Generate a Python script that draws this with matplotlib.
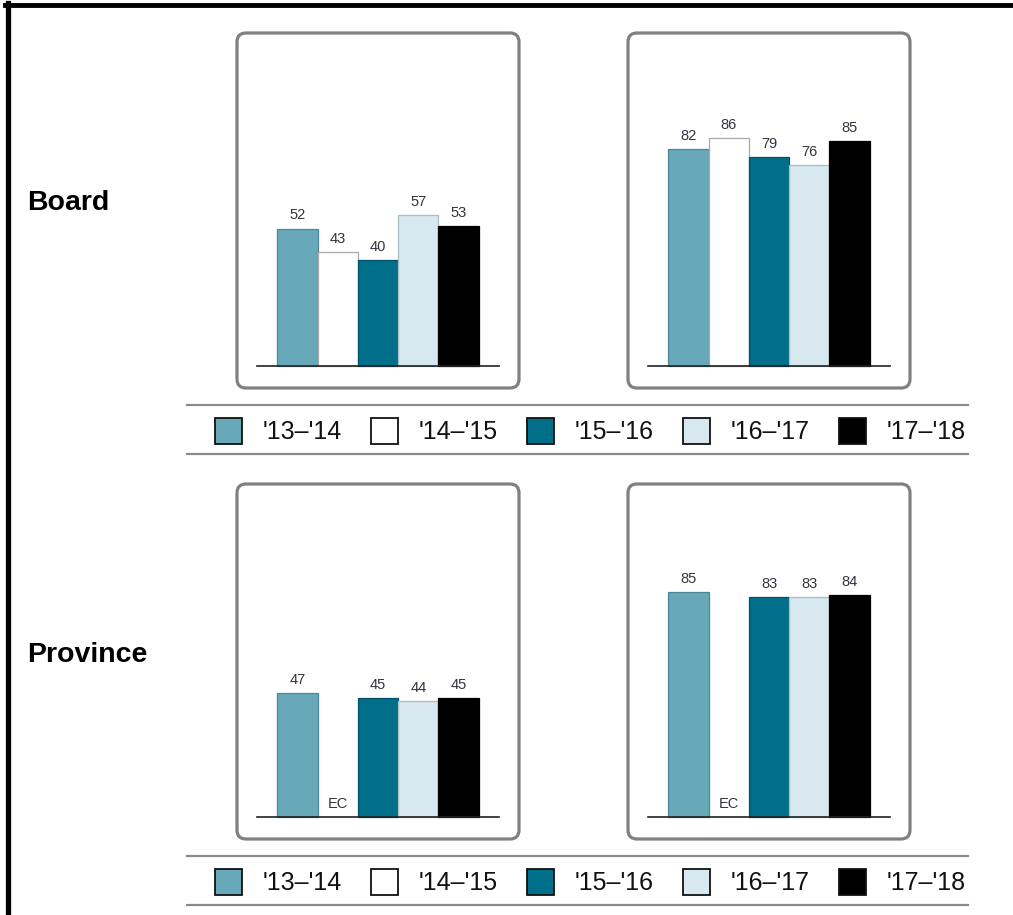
import numpy as np
import matplotlib
matplotlib.use("Agg")
import matplotlib.pyplot as plt
from matplotlib.patches import FancyBboxPatch, Rectangle
from matplotlib.lines import Line2D

plt.rcParams['font.family'] = ['Liberation Sans', 'DejaVu Sans']

years = ["'13\u2013'14", "'14\u2013'15", "'15\u2013'16", "'16\u2013'17", "'17\u2013'18"]
colors = ["#67a9b9", "#ffffff", "#006f8a", "#d7e8ee", "#000000"]
edges = ["#4d8796", "#a8a8a8", "#00506a", "#a9bcc2", "#000000"]

row_labels = ["Board", "Province"]
board_left = [52, 43, 40, 57, 53]
board_right = [82, 86, 79, 76, 85]
prov_left = [47, np.nan, 45, 44, 45]
prov_right = [85, np.nan, 83, 83, 84]

W, H = 1013, 915
fig = plt.figure(figsize=(W / 100, H / 100), dpi=100)


def fx(px):
    return px / W


def fy(py):
    return 1 - py / H


def panel(left, top, vals):
    ax = fig.add_axes([fx(left), fy(top + 355), 282 / W, 355 / H])
    ax.set_xlim(-1.5, 5.5)
    ax.set_ylim(-8.2, 125.8)
    ax.axis("off")
    x = np.arange(len(vals))
    ax.bar(x, vals, width=1, color=colors, edgecolor=edges, linewidth=0.9, zorder=2)
    ax.plot([-1.0, 5.0], [0, 0], color="#222222", lw=1.2, zorder=3)
    for xi, v in zip(x, vals):
        if np.isnan(v):
            ax.annotate("EC", (xi, 0), xytext=(0, 6.5), textcoords="offset points",
                        ha="center", va="baseline", fontsize=10.5, color="#333340")
        else:
            ax.annotate(str(int(v)), (xi, v), xytext=(0, 6.5), textcoords="offset points",
                        ha="center", va="baseline", fontsize=10.5, color="#333340")
    box = FancyBboxPatch((0, 0), 1, 1, boxstyle="round,pad=0,rounding_size=%f" % (9 / 282),
                         mutation_aspect=282 / 355, transform=ax.transAxes,
                         fill=False, edgecolor="#808080", linewidth=2.3, clip_on=False)
    ax.add_patch(box)
    return ax


panel(237, 33, board_left)
panel(628, 33, board_right)
panel(237, 484, prov_left)
panel(628, 484, prov_right)


def legend(y_top):
    for yy in [y_top, y_top + 49]:
        fig.add_artist(Line2D([fx(187), fx(968)], [fy(yy), fy(yy)], color="#8a8a8a", lw=1.6))
    for i, lab in enumerate(years):
        sx = 215 + 156 * i
        fig.add_artist(Rectangle((fx(sx), fy(y_top + 39)), 27 / W, 26 / H,
                                 facecolor=colors[i], edgecolor="#111111", lw=1.3,
                                 transform=fig.transFigure))
        fig.text(fx(sx + 48), fy(y_top + 34), lab, fontsize=18, va="baseline", ha="left",
                 color="#111111")


legend(405)
legend(856)

fig.text(fx(27), fy(210), row_labels[0], fontsize=20.5, fontweight="bold", va="baseline")
fig.text(fx(27), fy(662), row_labels[1], fontsize=20.5, fontweight="bold", va="baseline")

# outer frame (top and left edges only)
fig.add_artist(Line2D([fx(5), fx(1013)], [fy(5), fy(5)], color="black", lw=3.5))
fig.add_artist(Line2D([fx(7.5), fx(7.5)], [fy(3), fy(915)], color="black", lw=3.8))

fig.savefig("out.png", dpi=100)
